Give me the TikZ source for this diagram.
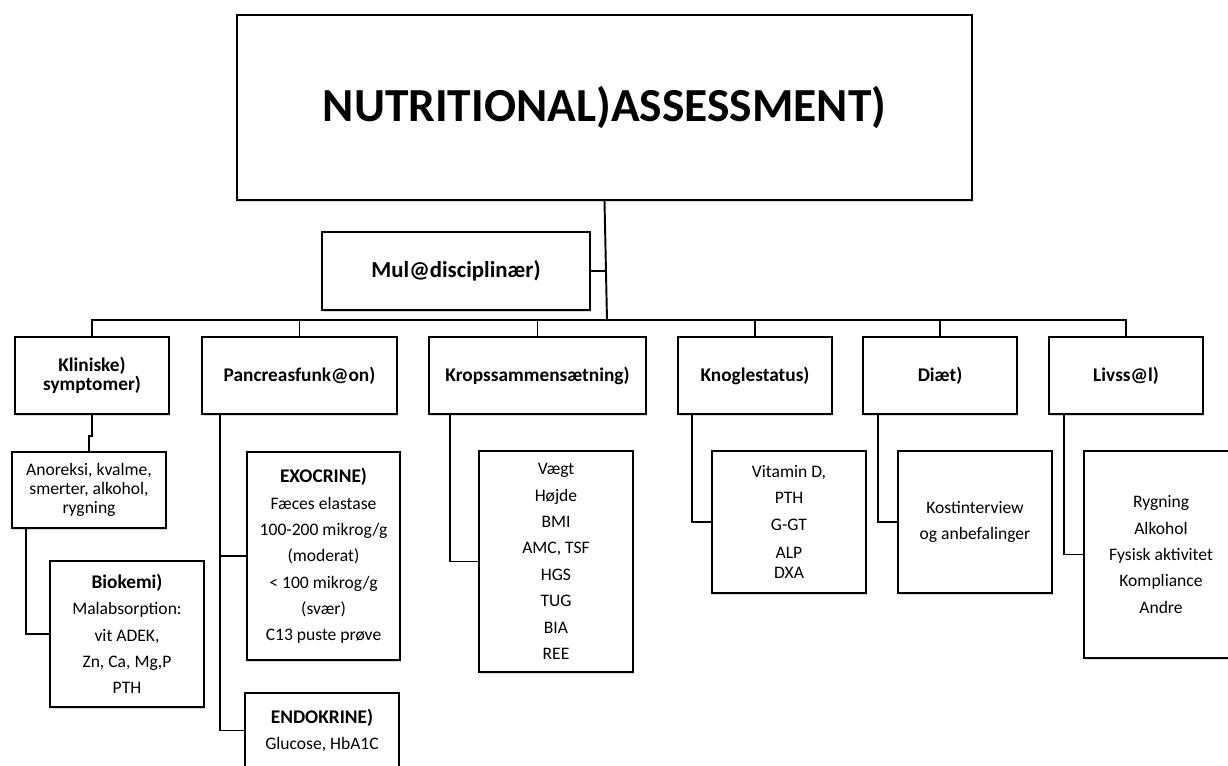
\documentclass[tikz,border=0pt]{standalone}
\usepackage{fontspec}
\setmainfont{Carlito}
\usetikzlibrary{shadows}

\begin{document}
\begin{tikzpicture}[x=0.02cm,y=-0.02cm,line width=1.1pt,
  box/.style={draw,fill=white,align=center,inner sep=0pt,
    drop shadow={shadow xshift=0.8pt,shadow yshift=-1pt,opacity=0.3}},
  head/.style={box,minimum height=1.54cm,font=\fontsize{11}{11}\selectfont\bfseries},
  list/.style={box,minimum width=3.08cm,font=\fontsize{10}{15}\selectfont}]
\useasboundingbox (0,0) rectangle (1228,765);
\clip (0,0) rectangle (1228,765);
\node[box,minimum width=14.7cm,minimum height=3.7cm,font=\fontsize{27}{27}\selectfont\bfseries] (nutr) at (604.5,107.5) {NUTRITIONAL)ASSESSMENT)};
\node[box,minimum width=5.36cm,minimum height=1.56cm,font=\fontsize{13}{13}\selectfont\bfseries] (multi) at (456,271) {Mul@disciplinær)};
\coordinate (bus) at (607,320);
\node[head,minimum width=3.08cm] (klin) at (92,375.5) {Kliniske)\\symptomer)};
\node[head,minimum width=3.9cm] (panc) at (299.5,375.5) {Pancreasfunk@on)};
\node[head,minimum width=4.34cm] (krop) at (537.5,375.5) {Kropssammensætning)};
\node[head,minimum width=3.08cm] (knog) at (755,375.5) {Knoglestatus)};
\node[head,minimum width=3.08cm] (diaet) at (940,375.5) {Diæt)};
\node[head,minimum width=3.08cm] (livs) at (1126,375.5) {Livss@l)};
\node[list,minimum height=1.52cm,font=\fontsize{10}{11}\selectfont] (anor) at (89,490) {Anoreksi, kvalme,\\smerter, alkohol,\\rygning};
\node[list,minimum height=2.92cm] (bio) at (127,634) {{\fontsize{11}{11}\selectfont\bfseries Biokemi)}\\Malabsorption:\\vit ADEK,\\Zn, Ca, Mg,P\\PTH};
\node[list,minimum width=3.06cm,minimum height=4.16cm] (exo) at (323.5,556) {{\fontsize{11}{11}\selectfont\bfseries EXOCRINE)}\\Fæces elastase\\100-200 mikrog/g\\(moderat)\\< 100 mikrog/g\\(svær)\\C13 puste prøve};
\node[list,minimum height=1.5cm] (endo) at (322,730.5) {{\fontsize{11}{11}\selectfont\bfseries ENDOKRINE)}\\Glucose, HbA1C};
\node[list,minimum height=4.42cm] (kropbox) at (556,561.5) {Vægt\\Højde\\BMI\\AMC, TSF\\HGS\\TUG\\BIA\\REE};
\node[list,minimum height=2.84cm] (knogbox) at (789,522) {Vitamin D,\\PTH\\G-GT\\[1.4pt]ALP\\[-3.7pt]DXA};
\node[list,minimum height=2.84cm] (diaetbox) at (975,522) {Kostinterview\\og anbefalinger};
\node[list,minimum height=4.14cm] (livsbox) at (1161,554.5) {Rygning\\Alkohol\\Fysisk aktivitet\\Kompliance\\Andre};
\draw (nutr.south) -- (bus);
\draw (multi.east) -- (multi.east -| bus);
\draw (klin.north) |- (bus) -| (livs.north);
\foreach \n in {panc,krop,knog,diaet}
  \draw (\n.north) -- (\n.north |- bus);
\draw (klin.south) -- ++(0,21) -| (anor.north);
\draw ([xshift=0.3cm]anor.south west) |- (bio.west);
\draw ([xshift=0.38cm]panc.south west) |- (exo.west);
\draw ([xshift=0.38cm]panc.south west) |- (endo.west);
\draw ([xshift=0.44cm]krop.south west) |- (kropbox.west);
\draw ([xshift=0.3cm]knog.south west) |- (knogbox.west);
\draw ([xshift=0.32cm]diaet.south west) |- (diaetbox.west);
\draw ([xshift=0.32cm]livs.south west) |- (livsbox.west);
\end{tikzpicture}
\end{document}
